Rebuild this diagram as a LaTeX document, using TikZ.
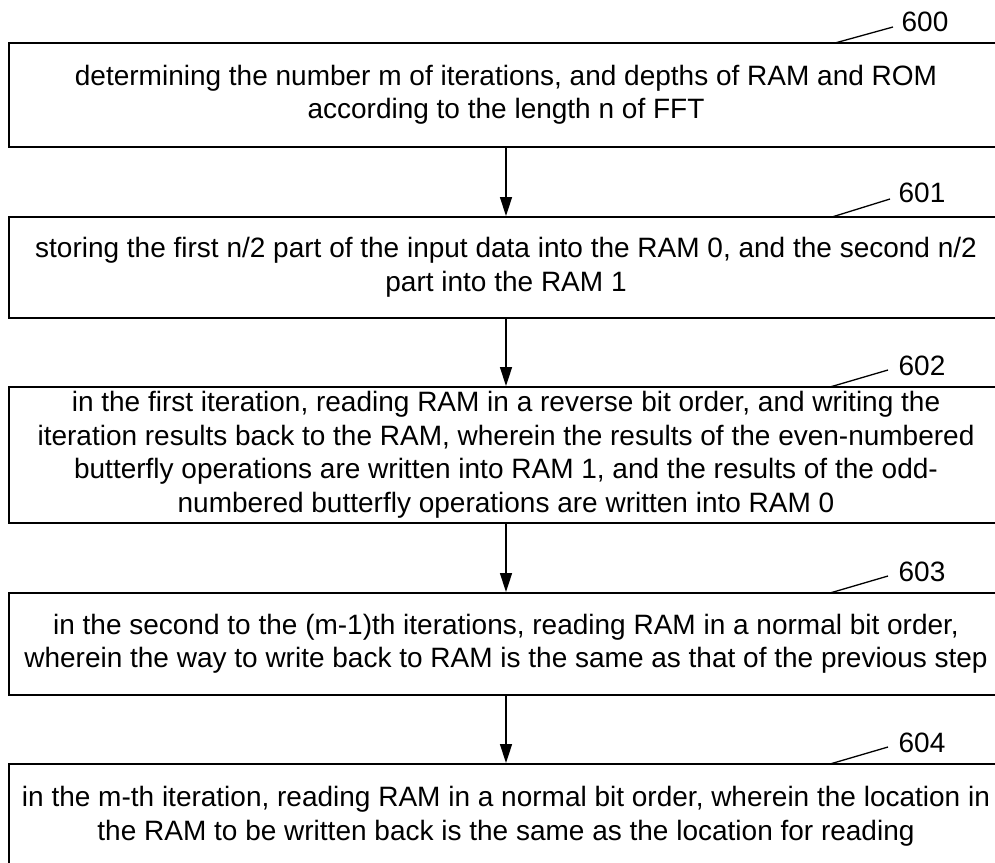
\documentclass[tikz,border=0pt]{standalone}
\usepackage{fontspec}
\setmainfont{Liberation Sans}
\usetikzlibrary{arrows.meta}
\begin{document}
\begin{tikzpicture}[x=1pt,y=-1pt,
  stepbox/.style={draw,line width=2pt,rectangle,minimum width=994pt,inner sep=0pt,align=center,
    font=\fontsize{28}{33.5}\selectfont},
  flow/.style={line width=1.5pt,-{Triangle[length=19pt,width=12pt]}},
  lbl/.style={font=\fontsize{28}{30}\selectfont,inner sep=0pt},
  leader/.style={line width=1.3pt}]
\clip (0,0) rectangle (995,862);
\fill[white] (0,0) rectangle (995,862);
\node[stepbox,minimum height=104pt] (b0) at (506,95) {determining the number m of iterations, and depths of RAM and ROM\\according to the length n of FFT};
\node[stepbox,minimum height=101pt] (b1) at (506,267.5) {storing the first n/2 part of the input data into the RAM 0, and the second n/2\\part into the RAM 1};
\node[stepbox,minimum height=136pt] (b2) at (506,455) {in the first iteration, reading RAM in a reverse bit order, and writing the\\iteration results back to the RAM, wherein the results of the even-numbered\\butterfly operations are written into RAM 1, and the results of the odd-\\numbered butterfly operations are written into RAM 0};
\node[stepbox,minimum height=102pt] (b3) at (506,644) {in the second to the (m-1)th iterations, reading RAM in a normal bit order,\\wherein the way to write back to RAM is the same as that of the previous step};
\node[stepbox,minimum height=104pt] (b4) at (506,816) {in the m-th iteration, reading RAM in a normal bit order, wherein the location in\\the RAM to be written back is the same as the location for reading};
\draw[flow] (b0) -- (b1);
\draw[flow] (b1) -- (b2);
\draw[flow] (b2) -- (b3);
\draw[flow] (b3) -- (b4);
\node[lbl] (l0) at (925,22) {600};
\node[lbl] (l1) at (922,193) {601};
\node[lbl] (l2) at (922,366) {602};
\node[lbl] (l3) at (922,572) {603};
\node[lbl] (l4) at (922,743) {604};
\coordinate (c0) at (835,43); \coordinate (d0) at (893,27);
\coordinate (c1) at (832,217); \coordinate (d1) at (890,199);
\coordinate (c2) at (830,387); \coordinate (d2) at (888,370);
\coordinate (c3) at (830,593); \coordinate (d3) at (888,576);
\coordinate (c4) at (830,764); \coordinate (d4) at (888,747);
\foreach \i in {0,...,4} { \draw[leader] (c\i) -- (d\i); }
\end{tikzpicture}
\end{document}
